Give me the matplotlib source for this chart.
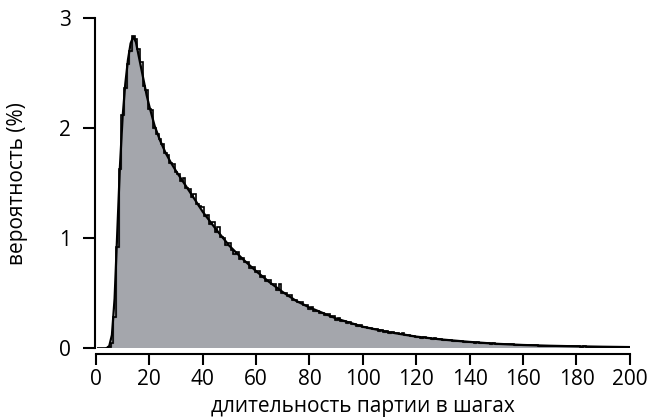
import numpy as np
import matplotlib.pyplot as plt

plt.rcParams['font.family'] = ['Open Sans', 'DejaVu Sans']

# histogram: share of games (%) for each length 1..200 steps
lengths = np.arange(1, 201)
hist_pct = [
    0, 0, 0, 0, 0.01, 0.05, 0.28, 0.92, 1.63, 2.12,
    2.36, 2.58, 2.70, 2.84, 2.81, 2.72, 2.60, 2.38, 2.35, 2.17,
    2.16, 2.00, 1.95, 1.90, 1.86, 1.77, 1.76, 1.68, 1.67, 1.60,
    1.58, 1.52, 1.55, 1.46, 1.45, 1.37, 1.40, 1.31, 1.29, 1.28,
    1.20, 1.21, 1.13, 1.15, 1.06, 1.10, 1.01, 1.00, 0.94, 0.96,
    0.89, 0.86, 0.87, 0.81, 0.82, 0.78, 0.78, 0.73, 0.74, 0.69,
    0.70, 0.65, 0.66, 0.61, 0.62, 0.58, 0.58, 0.53, 0.58, 0.50,
    0.50, 0.47, 0.48, 0.44, 0.44, 0.42, 0.42, 0.39, 0.39, 0.36,
    0.37, 0.34, 0.34, 0.32, 0.32, 0.30, 0.31, 0.28, 0.29, 0.26,
    0.27, 0.25, 0.25, 0.23, 0.24, 0.22, 0.22, 0.20, 0.21, 0.19,
    0.19, 0.18, 0.185, 0.17, 0.17, 0.16, 0.165, 0.15, 0.16, 0.14,
    0.145, 0.135, 0.14, 0.125, 0.135, 0.12, 0.12, 0.11, 0.115, 0.10,
    0.105, 0.095, 0.10, 0.09, 0.095, 0.085, 0.09, 0.08, 0.082, 0.076,
    0.078, 0.07, 0.074, 0.066, 0.068, 0.062, 0.065, 0.060, 0.058, 0.056,
    0.057, 0.051, 0.053, 0.048, 0.050, 0.045, 0.048, 0.042, 0.043, 0.039,
    0.041, 0.036, 0.038, 0.034, 0.035, 0.034, 0.032, 0.030, 0.031, 0.028,
    0.029, 0.026, 0.028, 0.025, 0.026, 0.024, 0.024, 0.022, 0.024, 0.021,
    0.022, 0.020, 0.021, 0.019, 0.020, 0.018, 0.019, 0.017, 0.018, 0.016,
    0.017, 0.015, 0.016, 0.015, 0.015, 0.014, 0.015, 0.013, 0.014, 0.013,
    0.013, 0.012, 0.013, 0.011, 0.012, 0.011, 0.011, 0.010, 0.011, 0.010,
]

# smooth fitted curve
curve_x = [4, 5, 6, 7, 8, 9, 10, 11, 12, 13, 14, 15, 16, 17, 18, 19, 20,
           22, 24, 26, 28, 30, 33, 36, 40, 45, 50, 55, 60, 65, 70, 75, 80,
           90, 100, 110, 120, 130, 140, 150, 160, 170, 180, 190, 200]
curve_y = [0.0, 0.02, 0.12, 0.45, 1.05, 1.65, 2.1, 2.4, 2.62, 2.77, 2.83,
           2.78, 2.66, 2.54, 2.42, 2.3, 2.2,
           2.02, 1.89, 1.78, 1.69, 1.61, 1.5, 1.39, 1.24, 1.08, 0.93, 0.81,
           0.7, 0.6, 0.51, 0.43, 0.37,
           0.27, 0.195, 0.145, 0.105, 0.078, 0.057, 0.04, 0.029, 0.022,
           0.017, 0.013, 0.01]

x_ticks = [0, 20, 40, 60, 80, 100, 120, 140, 160, 180, 200]
y_ticks = [0, 1, 2, 3]

fig = plt.figure(figsize=(6.48, 4.2), dpi=100)
ax = fig.add_axes([0.148, 0.171, 0.824, 0.786])

edges = np.append(lengths - 0.5, lengths[-1] + 0.5)
gray = '#a4a6ac'

# gray area under histogram, then blank out what lies above the fit
ax.stairs(hist_pct, edges, fill=True, facecolor=gray, edgecolor='#6f7075', lw=1, zorder=1)
ax.fill_between(curve_x, curve_y, 3.5, color='white', lw=0, zorder=1.2)
ax.stairs(hist_pct, edges, color='black', lw=1.2, zorder=2)
ax.plot(curve_x, curve_y, color='black', lw=1.6, zorder=3)

ax.set_xlim(0, 200)
ax.set_ylim(0, 3)
ax.set_xticks(x_ticks)
ax.set_yticks(y_ticks)

for s in ['top', 'right']:
    ax.spines[s].set_visible(False)
ax.spines['bottom'].set_position(('outward', 4))
ax.spines['left'].set_position(('outward', 1))
for s in ['bottom', 'left']:
    ax.spines[s].set_linewidth(1.5)

ax.tick_params(axis='x', direction='out', length=8, width=1.5, pad=3, labelsize=15)
ax.tick_params(axis='y', direction='out', length=9, width=1.5, pad=8, labelsize=15)

ax.set_xlabel('длительность партии в шагах', fontsize=15, labelpad=4)
ax.set_ylabel('вероятность (%)', fontsize=15, labelpad=22)

fig.savefig('out.png', dpi=100)
